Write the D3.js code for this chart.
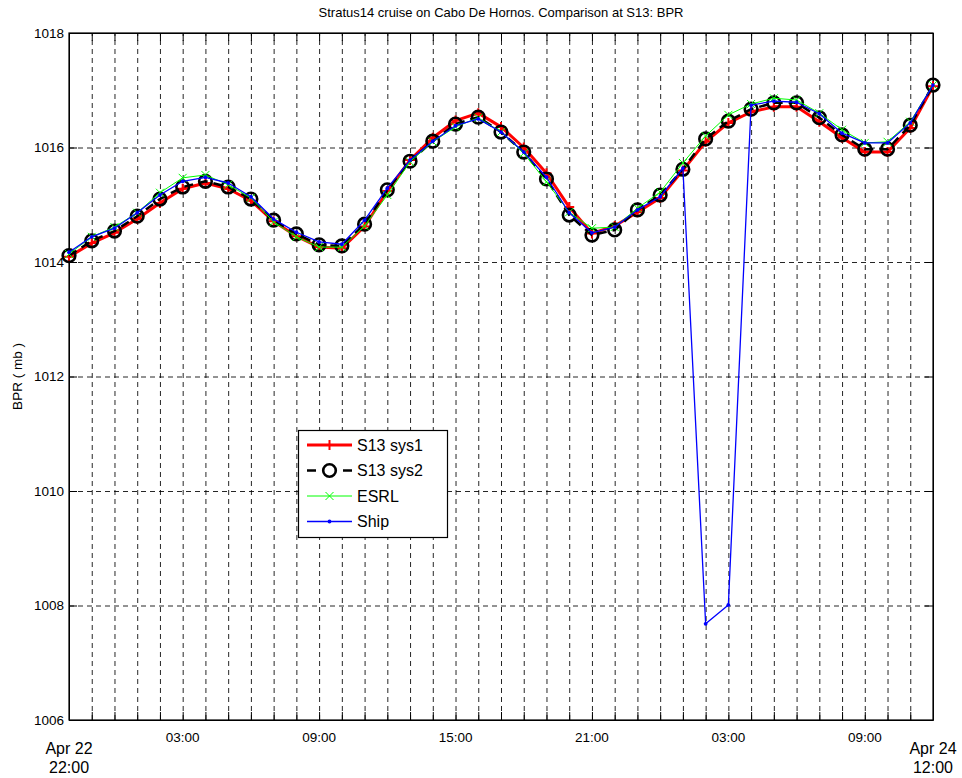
<!DOCTYPE html>
<meta charset="utf-8">
<html>
<head>
<script src="https://cdn.jsdelivr.net/npm/d3@7"></script>
<style>
	body { margin: 0; background: #fff; }
	text { font-family: "Liberation Sans", Arial, Helvetica, sans-serif; fill: #000; }
	.grid line { stroke: #000; stroke-width: 1; stroke-dasharray: 5,4; opacity: 0.85; }
	.grid path { display: none; }
	.axis path, .axis line { stroke: #000; stroke-width: 1; }
</style>
</head>
<body>
<svg id="chart" width="962" height="778"></svg>
<script>
	// hourly samples, Apr 22 22:00 -> Apr 24 12:00
	var times = ["04-22 22:00","04-22 23:00","04-23 00:00","04-23 01:00","04-23 02:00","04-23 03:00",
		"04-23 04:00","04-23 05:00","04-23 06:00","04-23 07:00","04-23 08:00","04-23 09:00",
		"04-23 10:00","04-23 11:00","04-23 12:00","04-23 13:00","04-23 14:00","04-23 15:00",
		"04-23 16:00","04-23 17:00","04-23 18:00","04-23 19:00","04-23 20:00","04-23 21:00",
		"04-23 22:00","04-23 23:00","04-24 00:00","04-24 01:00","04-24 02:00","04-24 03:00",
		"04-24 04:00","04-24 05:00","04-24 06:00","04-24 07:00","04-24 08:00","04-24 09:00",
		"04-24 10:00","04-24 11:00","04-24 12:00"];

	var sys1 = [1014.09,1014.33,1014.51,1014.75,1015.03,1015.28,1015.38,1015.28,1015.07,1014.71,
		1014.45,1014.26,1014.24,1014.62,1015.24,1015.78,1016.17,1016.47,1016.60,1016.36,
		1016.00,1015.55,1014.96,1014.50,1014.63,1014.87,1015.12,1015.60,1016.10,1016.43,
		1016.62,1016.71,1016.71,1016.45,1016.17,1015.92,1015.92,1016.34,1017.07];
	var sys2 = [1014.11,1014.37,1014.54,1014.80,1015.10,1015.31,1015.41,1015.31,1015.10,1014.73,
		1014.49,1014.30,1014.28,1014.66,1015.26,1015.76,1016.11,1016.41,1016.53,1016.27,
		1015.92,1015.45,1014.82,1014.47,1014.56,1014.91,1015.17,1015.62,1016.15,1016.46,
		1016.67,1016.78,1016.78,1016.52,1016.22,1015.97,1015.97,1016.39,1017.09];
	var esrl = [1014.14,1014.44,1014.61,1014.86,1015.21,1015.47,1015.52,1015.35,1015.12,1014.70,
		1014.44,1014.26,1014.26,1014.63,1015.17,1015.75,1016.10,1016.36,1016.52,1016.27,
		1015.90,1015.40,1014.87,1014.59,1014.61,1014.94,1015.22,1015.73,1016.20,1016.57,
		1016.76,1016.86,1016.83,1016.60,1016.31,1016.08,1016.10,1016.45,1017.09];
	var ship = [1014.17,1014.44,1014.59,1014.86,1015.17,1015.41,1015.48,1015.38,1015.14,1014.75,
		1014.52,1014.35,1014.31,1014.73,1015.29,1015.78,1016.11,1016.38,1016.50,1016.27,
		1015.92,1015.48,1014.86,1014.51,1014.61,1014.91,1015.14,1015.64,1007.68,1008.01,
		1016.74,1016.81,1016.79,1016.59,1016.25,1016.08,1016.08,1016.43,1017.09];

	var yTicks = [1006,1008,1010,1012,1014,1016,1018];
	var xLabelTimes = ["04-23 03:00","04-23 09:00","04-23 15:00","04-23 21:00","04-24 03:00","04-24 09:00"];
	var xEndLabels = [["04-22 22:00","Apr 22","22:00"],["04-24 12:00","Apr 24","12:00"]];
	var legendNames = ["S13 sys1","S13 sys2","ESRL","Ship"];

	var titleText = "Stratus14 cruise on Cabo De Hornos. Comparison at S13: BPR";
	var yLabelText = "BPR ( mb )";

	var svgWidth = 962, svgHeight = 778;
	var margin = {top: 33, right: 29, bottom: 58, left: 69},
		width = svgWidth - margin.left - margin.right,
		height = svgHeight - margin.top - margin.bottom;

	var parseT = d3.timeParse("%Y-%m-%d %H:%M");
	function toDate(s) { return parseT("2015-" + s); }
	var dates = times.map(toDate);

	var x = d3.scaleTime()
		.domain([dates[0], dates[dates.length - 1]])
		.range([0, width]);

	var y = d3.scaleLinear()
		.domain([1006, 1018])
		.range([height, 0]);

	var svg = d3.select("#chart");
	var g = svg.append("g")
		.attr("transform", "translate(" + margin.left + "," + margin.top + ")");

	// grid
	g.append("g")
		.attr("class", "grid")
		.attr("transform", "translate(0," + height + ")")
		.call(d3.axisBottom(x).tickValues(dates.slice(1, -1)).tickSize(-height).tickFormat(""));
	g.append("g")
		.attr("class", "grid")
		.call(d3.axisLeft(y).tickValues(yTicks.slice(1, -1)).tickSize(-width).tickFormat(""));

	// inward ticks on all four sides
	g.append("g").attr("class", "axis")
		.attr("transform", "translate(0," + height + ")")
		.call(d3.axisBottom(x).tickValues(dates).tickSizeInner(-8).tickSizeOuter(0).tickFormat(""));
	g.append("g").attr("class", "axis")
		.call(d3.axisTop(x).tickValues(dates).tickSizeInner(-8).tickSizeOuter(0).tickFormat(""));
	g.append("g").attr("class", "axis")
		.attr("transform", "translate(" + width + ",0)")
		.call(d3.axisRight(y).tickValues(yTicks).tickSizeInner(-8).tickSizeOuter(0).tickFormat(""));
	var yAxis = g.append("g").attr("class", "axis")
		.call(d3.axisLeft(y).tickValues(yTicks).tickSizeInner(-8).tickSizeOuter(0)
			.tickPadding(5).tickFormat(d3.format("d")));
	yAxis.attr("font-family", null).attr("font-size", null);
	yAxis.selectAll("text").style("font-size", "13.5px");

	// x labels
	g.selectAll(".xlab")
		.data(xLabelTimes)
		.enter().append("text")
		.attr("class", "xlab")
		.attr("x", function(d) { return x(toDate(d)); })
		.attr("y", height + 22)
		.attr("text-anchor", "middle")
		.style("font-size", "13.5px")
		.text(function(d) { return d.split(" ")[1]; });

	xEndLabels.forEach(function(d) {
		var t = g.append("text")
			.attr("x", x(toDate(d[0])))
			.attr("text-anchor", "middle")
			.style("font-size", "16px");
		t.append("tspan").attr("x", x(toDate(d[0]))).attr("y", height + 34).text(d[1]);
		t.append("tspan").attr("x", x(toDate(d[0]))).attr("y", height + 53).text(d[2]);
	});

	// frame
	g.append("rect")
		.attr("width", width)
		.attr("height", height)
		.attr("fill", "none")
		.attr("stroke", "#000")
		.attr("stroke-width", 1.2);

	// title & y label
	svg.append("text")
		.attr("x", margin.left + width / 2)
		.attr("y", 17)
		.attr("text-anchor", "middle")
		.style("font-size", "13px")
		.text(titleText);
	svg.append("text")
		.attr("transform", "translate(22," + (margin.top + height / 2) + ") rotate(-90)")
		.attr("text-anchor", "middle")
		.style("font-size", "13.5px")
		.text(yLabelText);

	var line = d3.line()
		.x(function(d, i) { return x(dates[i]); })
		.y(function(d) { return y(d); });

	var styles = [
		{data: sys1, color: "#ff0000", width: 3, dash: null, marker: "plus"},
		{data: sys2, color: "#000000", width: 2.5, dash: "9,6", marker: "circle"},
		{data: esrl, color: "#00ff00", width: 1, dash: null, marker: "cross"},
		{data: ship, color: "#0000ff", width: 1.3, dash: null, marker: "dot"}
	];

	function drawMarker(sel, s) {
		if (s.marker == "plus") {
			sel.append("path").attr("d", "M-5,0H5M0,-5V5")
				.attr("stroke", s.color).attr("stroke-width", 2).attr("fill", "none");
		} else if (s.marker == "circle") {
			sel.append("circle").attr("r", 6.3)
				.attr("stroke", s.color).attr("stroke-width", 2.6).attr("fill", "none");
		} else if (s.marker == "cross") {
			sel.append("path").attr("d", "M-4,-4L4,4M-4,4L4,-4")
				.attr("stroke", s.color).attr("stroke-width", 1).attr("fill", "none");
		} else {
			sel.append("circle").attr("r", 1.9).attr("fill", s.color);
		}
	}

	var plot = g.append("g");
	styles.forEach(function(s) {
		plot.append("path")
			.datum(s.data)
			.attr("d", line)
			.attr("fill", "none")
			.attr("stroke", s.color)
			.attr("stroke-width", s.width)
			.attr("stroke-dasharray", s.dash)
			.attr("stroke-linejoin", "round");
		plot.selectAll(null)
			.data(s.data)
			.enter().append("g")
			.attr("transform", function(d, i) { return "translate(" + x(dates[i]) + "," + y(d) + ")"; })
			.each(function() { drawMarker(d3.select(this), s); });
	});

	// legend
	var legend = svg.append("g").attr("transform", "translate(298.5,430.5)");
	legend.append("rect")
		.attr("width", 149)
		.attr("height", 107)
		.attr("fill", "#fff")
		.attr("stroke", "#000")
		.attr("stroke-width", 1.2);
	legendNames.forEach(function(name, i) {
		var s = styles[i];
		var row = legend.append("g").attr("transform", "translate(0," + (14.5 + i * 25.5) + ")");
		row.append("line")
			.attr("x1", 8.5).attr("x2", 53.5)
			.attr("stroke", s.color)
			.attr("stroke-width", s.width)
			.attr("stroke-dasharray", s.dash ? "9,27" : null);
		drawMarker(row.append("g").attr("transform", "translate(31,0)"), s);
		row.append("text")
			.attr("x", 58.5)
			.attr("dy", "0.36em")
			.style("font-size", "16px")
			.text(name);
	});
</script>
</body>
</html>
